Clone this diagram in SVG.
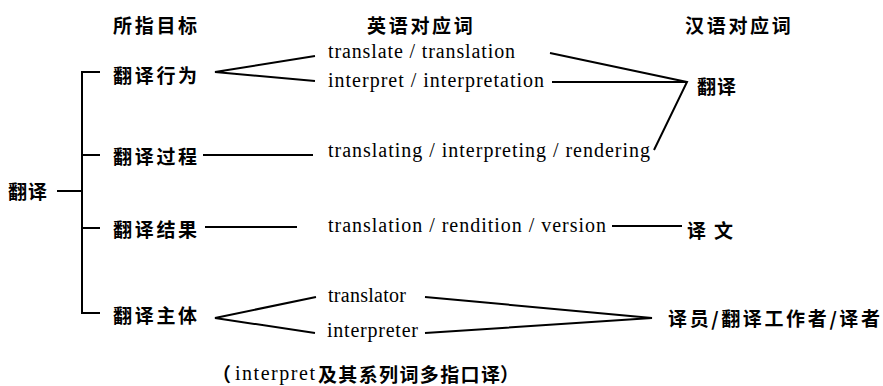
<svg xmlns="http://www.w3.org/2000/svg" width="883" height="386" viewBox="0 0 883 386">
<style>
.cj{font-family:"Noto Sans CJK SC","Noto Sans",sans-serif;font-weight:bold;font-size:19px;fill:#000}
.c{dominant-baseline:central}
.hd{letter-spacing:2.7px}
.en{font-family:"Liberation Serif","Times New Roman",serif;font-size:20px;fill:#000}
.ln{fill:none;stroke:#000;stroke-width:2;stroke-linejoin:miter}
</style>
<rect width="883" height="386" fill="#fff"/>
<g id="headers">
<text class="cj c hd" x="113" y="24">所指目标</text>
<text class="cj c hd" x="367" y="24">英语对应词</text>
<text class="cj c hd" x="685" y="24">汉语对应词</text>
</g>
<g id="root"><text class="cj c" x="8" y="190" letter-spacing="1">翻译</text></g>
<g id="act"><text class="cj c hd" x="113" y="74">翻译行为</text></g>
<g id="proc"><text class="cj c hd" x="113" y="155">翻译过程</text></g>
<g id="res"><text class="cj c hd" x="113" y="228">翻译结果</text></g>
<g id="agent"><text class="cj c hd" x="113" y="314">翻译主体</text></g>
<g id="en1"><text class="en" x="328" y="58" textLength="187" lengthAdjust="spacing">translate / translation</text></g>
<g id="en2"><text class="en" x="328" y="87" textLength="216" lengthAdjust="spacing">interpret / interpretation</text></g>
<g id="en3"><text class="en" x="328" y="157" textLength="322" lengthAdjust="spacing">translating / interpreting / rendering</text></g>
<g id="en4"><text class="en" x="328" y="232" textLength="278" lengthAdjust="spacing">translation / rendition / version</text></g>
<g id="en5"><text class="en" x="328" y="302" textLength="78" lengthAdjust="spacing">translator</text></g>
<g id="en6"><text class="en" x="327" y="337" textLength="91" lengthAdjust="spacing">interpreter</text></g>
<g id="zh1"><text class="cj c" x="697" y="85" letter-spacing="1">翻译</text></g>
<g id="zh2"><text class="cj c" x="687" y="229" letter-spacing="8">译文</text></g>
<g id="zh3"><text class="cj c" x="668" y="317" textLength="212" lengthAdjust="spacing">译员/翻译工作者/译者</text></g>
<g id="note">
<text class="cj" x="212" y="382">（</text>
<text class="en" x="235" y="380" textLength="80" lengthAdjust="spacing">interpret</text>
<text class="cj" x="318" y="382" textLength="182" lengthAdjust="spacing">及其系列词多指口译</text>
<text class="cj" x="500" y="382">）</text>
</g>
<g id="connectors">
<path class="ln" d="M57,191 H82"/>
<path class="ln" d="M100,72 H82 V313 H100"/>
<path class="ln" d="M82,155 H100 M82,228 H100"/>
<path class="ln" d="M315,56 L215,72 L315,81"/>
<path class="ln" d="M203,155 H313"/>
<path class="ln" d="M205,227 H297"/>
<path class="ln" d="M316,297 L215,318 L315,333"/>
<path class="ln" d="M550,53 L687,82 L654,150"/>
<path class="ln" d="M552,82 H687"/>
<path class="ln" d="M612,226 H682"/>
<path class="ln" d="M425,297 L652,318 L425,333"/>
</g>
</svg>
